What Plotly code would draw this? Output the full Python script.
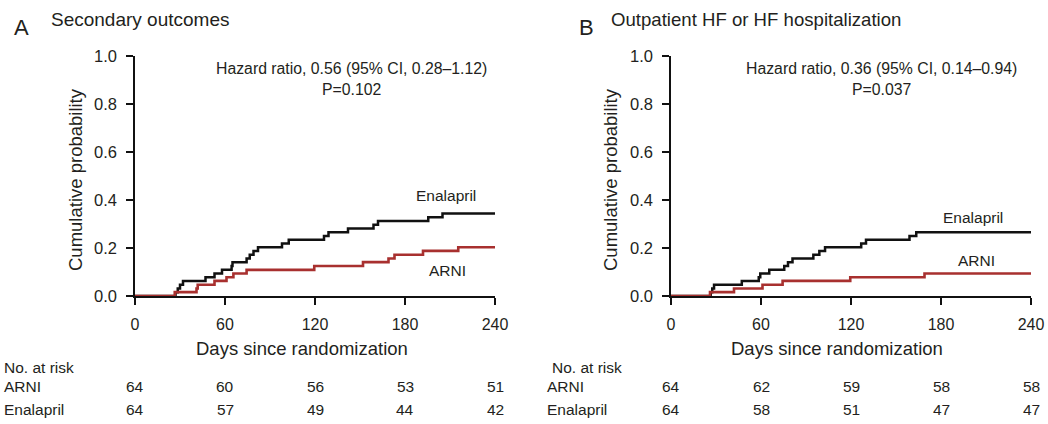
import plotly.graph_objects as go

# ---------------- data ----------------
days_ticks = [0, 60, 120, 180, 240]
prob_ticks = [0.0, 0.2, 0.4, 0.6, 0.8, 1.0]

# Panel A: Secondary outcomes (step times in days, cumulative probability)
a_enal_t = [0, 27, 28.5, 30, 32, 47, 53, 58, 64.4, 65, 74.4, 76.5, 79, 82, 98, 102.5,
            126, 129, 142, 159, 162, 195.5, 205, 240]
a_enal_y = [0, 0.016, 0.031, 0.047, 0.063, 0.078, 0.094, 0.109, 0.125, 0.141, 0.156,
            0.172, 0.188, 0.203, 0.219, 0.234, 0.25, 0.266, 0.281, 0.297, 0.313, 0.328,
            0.344, 0.344]
a_arni_t = [0, 26.5, 41, 41.8, 53, 61, 65.6, 74.4, 119.5, 152, 169, 173, 192, 215.5, 240]
a_arni_y = [0, 0.016, 0.031, 0.047, 0.063, 0.078, 0.094, 0.109, 0.125, 0.141, 0.156,
            0.172, 0.188, 0.203, 0.203]

# Panel B: Outpatient HF or HF hospitalization
b_enal_t = [0, 26.5, 27.5, 28.7, 47.2, 58.5, 59.5, 65.5, 75.5, 78, 81, 94.9, 98.9,
            102.7, 126.8, 130, 159, 163.5, 240]
b_enal_y = [0, 0.016, 0.031, 0.047, 0.063, 0.078, 0.094, 0.109, 0.125, 0.141, 0.156,
            0.172, 0.188, 0.203, 0.219, 0.234, 0.25, 0.266, 0.266]
b_arni_t = [0, 26, 42, 61, 74.4, 119.5, 169, 240]
b_arni_y = [0, 0.016, 0.031, 0.047, 0.063, 0.078, 0.094, 0.094]

a_risk_arni = [64, 60, 56, 53, 51]
a_risk_enal = [64, 57, 49, 44, 42]
b_risk_arni = [64, 62, 59, 58, 58]
b_risk_enal = [64, 58, 51, 47, 47]

a_title = "Secondary outcomes"
b_title = "Outpatient HF or HF hospitalization"
a_hr = "Hazard ratio, 0.56 (95% CI, 0.28–1.12)<br>P=0.102"
b_hr = "Hazard ratio, 0.36 (95% CI, 0.14–0.94)<br>P=0.037"

# ---------------- styling ----------------
W, H = 1048, 424
FONT = "Liberation Sans, Arial, Helvetica, sans-serif"
TXT = "#231f20"
BLACK = "#111111"
RED = "#a8302f"

def X(px):
    return px / W

def Y(py):
    return 1 - py / H

fig = go.Figure()

panels = [
    dict(x="x", y="y", et=a_enal_t, ey=a_enal_y, at=a_arni_t, ay=a_arni_y),
    dict(x="x2", y="y2", et=b_enal_t, ey=b_enal_y, at=b_arni_t, ay=b_arni_y),
]
for p in panels:
    fig.add_trace(go.Scatter(x=p["et"], y=p["ey"], mode="lines", line_shape="hv",
                             line=dict(color=BLACK, width=2.5), xaxis=p["x"], yaxis=p["y"],
                             showlegend=False, hoverinfo="skip"))
    fig.add_trace(go.Scatter(x=p["at"], y=p["ay"], mode="lines", line_shape="hv",
                             line=dict(color=RED, width=2.6), xaxis=p["x"], yaxis=p["y"],
                             showlegend=False, hoverinfo="skip"))

xa = dict(range=[0, 240], tickvals=days_ticks, ticktext=[str(v) for v in days_ticks],
          showline=True, linecolor=BLACK, linewidth=1.5, ticks="outside", ticklen=7,
          tickwidth=1.5, tickcolor=BLACK, showgrid=False, zeroline=False, automargin=False,
          tickfont=dict(family=FONT, size=16, color=TXT), ticklabelstandoff=6, fixedrange=True)
ya = dict(range=[0, 1], tickvals=prob_ticks, ticktext=[f"{v:.1f}" for v in prob_ticks],
          showline=True, linecolor=BLACK, linewidth=1.5, ticks="outside", ticklen=7,
          tickwidth=1.5, tickcolor=BLACK, showgrid=False, zeroline=False, automargin=False,
          tickfont=dict(family=FONT, size=16.5, color=TXT), ticklabelstandoff=6, fixedrange=True)

y_dom = [Y(296), Y(56)]
fig.update_layout(
    width=W, height=H, autosize=False,
    margin=dict(l=0, r=0, t=0, b=0, pad=0, autoexpand=False),
    paper_bgcolor="white", plot_bgcolor="white", showlegend=False,
    xaxis=dict(xa, domain=[X(135), X(495)], anchor="y"),
    yaxis=dict(ya, domain=y_dom, anchor="x"),
    xaxis2=dict(xa, domain=[X(671), X(1031)], anchor="y2"),
    yaxis2=dict(ya, domain=y_dom, anchor="x2"),
    font=dict(family=FONT, color=TXT),
)

ann = []
def text(s, px, py, size, xanchor="center", textangle=0, xref="paper"):
    ann.append(dict(text=s, x=(px if xref != "paper" else X(px)), y=Y(py), xref=xref,
                    yref="paper", xanchor=xanchor, yanchor="middle", showarrow=False,
                    textangle=textangle, font=dict(family=FONT, size=size, color=TXT)))

# panel letters and titles
text("A", 12, 28, 22, xanchor="left")
text(a_title, 49, 20, 19, xanchor="left")
text("B", 577, 28, 22, xanchor="left")
text(b_title, 609, 20, 18.6, xanchor="left")

# hazard ratio notes
for s, cx in [(a_hr, 351), (b_hr, 881)]:
    ann.append(dict(text=s, x=X(cx), y=Y(79), xref="paper", yref="paper", xanchor="center",
                    yanchor="middle", showarrow=False, align="center",
                    font=dict(family=FONT, size=15.8, color=TXT)))

# axis titles
text("Cumulative probability", 75, 180, 18.5, textangle=-90)
text("Cumulative probability", 610, 180, 18.5, textangle=-90)
text("Days since randomization", 302, 348, 18.5)
text("Days since randomization", 837, 348, 18.5)

# curve labels
text("Enalapril", 446, 195, 15.5)
text("ARNI", 447, 270, 15.5)
text("Enalapril", 973, 217, 15.5)
text("ARNI", 976, 260, 15.5)

# number at risk tables
for xref, left_lbl, left_rows, ra, re in [("x", 2, 2, a_risk_arni, a_risk_enal),
                                          ("x2", 550, 545, b_risk_arni, b_risk_enal)]:
    text("No. at risk", left_lbl, 367, 15.5, xanchor="left")
    text("ARNI", left_rows, 386, 15.5, xanchor="left")
    text("Enalapril", left_rows, 409, 15.5, xanchor="left")
    for d, va, ve in zip(days_ticks, ra, re):
        text(str(va), d, 386, 15.5, xref=xref)
        text(str(ve), d, 409, 15.5, xref=xref)

fig.update_layout(annotations=ann)
fig.write_html(
    "out.html",
    config={"displayModeBar": False, "responsive": False},
    post_script="document.body.style.margin='0';document.body.style.padding='0';"
                "document.body.style.overflow='hidden';",
)
